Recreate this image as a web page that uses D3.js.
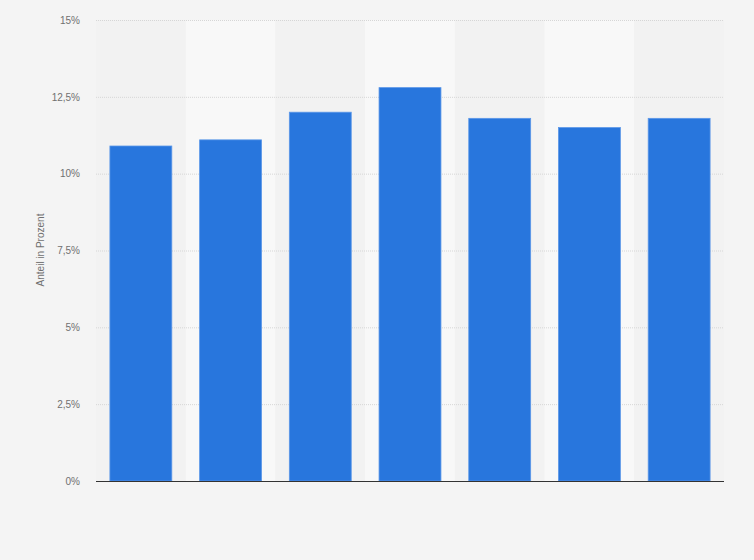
<!DOCTYPE html>
<html>
<head>
<meta charset="utf-8">
<script src="https://cdn.jsdelivr.net/npm/d3@7"></script>
<style>
  body { margin: 0; background: #f4f4f4; }
  svg { display: block; font-family: "Liberation Sans", Arial, sans-serif; }
</style>
</head>
<body>
<svg id="chart"></svg>
<script>
// values (no category labels are shown)
var categories = ["1", "2", "3", "4", "5", "6", "7"];
var values = [10.9, 11.1, 12.0, 12.8, 11.8, 11.5, 11.8];
var yTicks = [0, 2.5, 5, 7.5, 10, 12.5, 15];
var yTitle = "Anteil in Prozent";

var width = 754, height = 560;
var margin = { top: 20, right: 30, bottom: 79, left: 96 };
var innerW = width - margin.left - margin.right;
var innerH = height - margin.top - margin.bottom;

var svg = d3.select("#chart")
  .attr("width", width)
  .attr("height", height);

svg.append("rect")
  .attr("width", width)
  .attr("height", height)
  .attr("fill", "#f4f4f4");

var g = svg.append("g")
  .attr("transform", "translate(" + margin.left + "," + margin.top + ")");

var x = d3.scaleBand()
  .domain(categories)
  .range([0, innerW])
  .paddingInner(0.31)
  .paddingOuter(0.155);

var y = d3.scaleLinear()
  .domain([0, 15])
  .range([innerH, 0]);

var step = x.step();

// alternating column stripes
g.selectAll("rect.stripe")
  .data(categories)
  .enter()
  .append("rect")
  .attr("class", "stripe")
  .attr("x", function (d, i) { return i * step; })
  .attr("y", 0)
  .attr("width", step)
  .attr("height", innerH)
  .attr("fill", function (d, i) { return i % 2 ? "#f8f8f8" : "#f2f2f2"; });

// grid lines
g.selectAll("line.grid")
  .data(yTicks.filter(function (t) { return t > 0; }))
  .enter()
  .append("line")
  .attr("class", "grid")
  .attr("x1", 0)
  .attr("x2", innerW)
  .attr("y1", function (d) { return y(d) + 0.5; })
  .attr("y2", function (d) { return y(d) + 0.5; })
  .attr("stroke", "#d6d6d6")
  .attr("stroke-dasharray", "1,1");

// y axis labels
var yAxis = g.append("g")
  .call(d3.axisLeft(y)
    .tickValues(yTicks)
    .tickSize(0)
    .tickPadding(16)
    .tickFormat(function (d) { return String(d).replace(".", ",") + "%"; }));
yAxis.select(".domain").remove();
yAxis.selectAll("text")
  .attr("fill", "#707070")
  .style("font-size", "10px");

// bars
g.selectAll("rect.bar")
  .data(values)
  .enter()
  .append("rect")
  .attr("class", "bar")
  .attr("x", function (d, i) { return x(categories[i]); })
  .attr("y", function (d) { return y(d); })
  .attr("width", x.bandwidth())
  .attr("height", function (d) { return innerH - y(d); })
  .attr("fill", "#2876dd")
  .attr("stroke", "#5b97e8")
  .attr("stroke-width", 0.8);

// baseline
g.append("line")
  .attr("x1", 0)
  .attr("x2", innerW)
  .attr("y1", innerH + 0.5)
  .attr("y2", innerH + 0.5)
  .attr("stroke", "#333")
  .attr("stroke-width", 1.2);

// y title
svg.append("text")
  .attr("transform", "translate(44,250) rotate(-90)")
  .attr("text-anchor", "middle")
  .attr("fill", "#707070")
  .style("font-size", "10px")
  .text(yTitle);
</script>
</body>
</html>
